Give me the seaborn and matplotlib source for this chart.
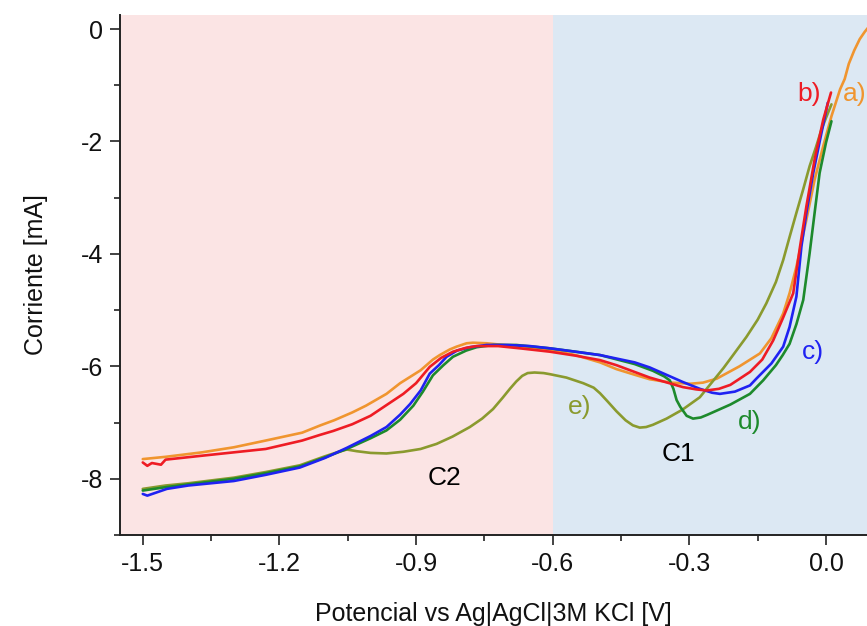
import matplotlib
matplotlib.use("Agg")
import matplotlib.pyplot as plt
from matplotlib.ticker import MultipleLocator, FuncFormatter
import pandas as pd
import seaborn as sns

# potential [V] and current [mA]
a_potential = [-1.50, -1.45, -1.37, -1.30, -1.23, -1.15, -1.11, -1.08, -1.04, -1.01,
               -0.965, -0.935, -0.89, -0.863, -0.848, -0.826, -0.811, -0.789, -0.775, -0.745,
               -0.708, -0.66, -0.606, -0.55, -0.496, -0.46, -0.42, -0.387, -0.34, -0.298,
               -0.27, -0.24, -0.19, -0.145, -0.12, -0.094, -0.08, -0.065, -0.043, -0.025,
               -0.006, 0.012, 0.031, 0.041, 0.050, 0.062, 0.074, 0.085, 0.092]
a_current = [-7.65, -7.61, -7.53, -7.44, -7.32, -7.18, -7.05, -6.96, -6.82, -6.70,
             -6.49, -6.30, -6.07, -5.88, -5.80, -5.70, -5.65, -5.59, -5.58, -5.59,
             -5.62, -5.66, -5.71, -5.80, -5.93, -6.05, -6.15, -6.23, -6.29, -6.31,
             -6.29, -6.22, -6.00, -5.77, -5.50, -5.06, -4.70, -4.23, -3.39, -2.68,
             -2.08, -1.55, -1.07, -0.89, -0.62, -0.38, -0.18, -0.05, 0.02]

b_potential = [-1.50, -1.49, -1.48, -1.46, -1.45, -1.37, -1.30, -1.23, -1.15, -1.111,
               -1.082, -1.04, -1.00, -0.965, -0.928, -0.90, -0.870, -0.845, -0.819, -0.79,
               -0.767, -0.72, -0.672, -0.606, -0.55, -0.496, -0.46, -0.387, -0.314, -0.285,
               -0.262, -0.235, -0.21, -0.167, -0.14, -0.116, -0.095, -0.072, -0.057, -0.043,
               -0.025, -0.006, 0.011]
b_current = [-7.71, -7.77, -7.72, -7.75, -7.66, -7.59, -7.53, -7.47, -7.32, -7.22,
             -7.15, -7.03, -6.88, -6.69, -6.49, -6.30, -6.01, -5.85, -5.74, -5.67,
             -5.64, -5.64, -5.68, -5.74, -5.81, -5.89, -5.98, -6.20, -6.37, -6.41,
             -6.43, -6.40, -6.33, -6.10, -5.88, -5.54, -5.15, -4.70, -3.87, -3.15,
             -2.32, -1.61, -1.13]

c_potential = [-1.50, -1.49, -1.447, -1.40, -1.30, -1.23, -1.155, -1.10, -1.052, -1.00,
               -0.965, -0.935, -0.913, -0.890, -0.870, -0.850, -0.833, -0.81, -0.782, -0.745,
               -0.70, -0.65, -0.606, -0.55, -0.496, -0.42, -0.387, -0.314, -0.277, -0.25,
               -0.233, -0.20, -0.167, -0.153, -0.12, -0.094, -0.08, -0.065, -0.054, -0.043,
               -0.028, -0.010, 0.004]
c_current = [-8.27, -8.30, -8.18, -8.12, -8.04, -7.93, -7.80, -7.63, -7.45, -7.24,
             -7.08, -6.86, -6.67, -6.43, -6.13, -5.98, -5.83, -5.72, -5.66, -5.62,
             -5.62, -5.64, -5.68, -5.74, -5.80, -5.93, -6.02, -6.28, -6.40, -6.47,
             -6.49, -6.45, -6.34, -6.22, -5.95, -5.65, -5.30, -4.76, -3.87, -3.27,
             -2.56, -1.85, -1.31]

d_potential = [-1.50, -1.45, -1.40, -1.30, -1.23, -1.155, -1.10, -1.052, -1.00, -0.965,
               -0.935, -0.906, -0.885, -0.863, -0.840, -0.819, -0.79, -0.767, -0.73, -0.68,
               -0.606, -0.55, -0.496, -0.42, -0.38, -0.355, -0.343, -0.335, -0.328, -0.32,
               -0.306, -0.292, -0.275, -0.26, -0.21, -0.167, -0.138, -0.11, -0.095, -0.080,
               -0.065, -0.050, -0.036, -0.025, -0.014, 0.0, 0.012]
d_current = [-8.21, -8.15, -8.10, -8.00, -7.90, -7.78, -7.62, -7.47, -7.28, -7.14,
             -6.95, -6.70, -6.45, -6.16, -5.98, -5.83, -5.72, -5.66, -5.62, -5.62,
             -5.68, -5.74, -5.80, -5.96, -6.08, -6.18, -6.25, -6.40, -6.60, -6.72,
             -6.88, -6.93, -6.91, -6.86, -6.68, -6.49, -6.25, -5.98, -5.80, -5.60,
             -5.25, -4.82, -3.99, -3.27, -2.56, -2.02, -1.64]

e_potential = [-1.50, -1.45, -1.40, -1.30, -1.23, -1.155, -1.10, -1.07, -1.052, -1.03,
               -1.00, -0.965, -0.928, -0.89, -0.855, -0.82, -0.782, -0.755, -0.731, -0.71,
               -0.694, -0.68, -0.667, -0.655, -0.64, -0.62, -0.606, -0.57, -0.533, -0.51,
               -0.496, -0.48, -0.46, -0.44, -0.424, -0.409, -0.395, -0.38, -0.35, -0.315,
               -0.277, -0.248, -0.225, -0.204, -0.175, -0.15, -0.131, -0.11, -0.094, -0.08,
               -0.065, -0.05, -0.036, -0.022, -0.010, 0.0, 0.012]
e_current = [-8.18, -8.12, -8.08, -7.98, -7.88, -7.76, -7.60, -7.52, -7.48, -7.51,
             -7.54, -7.55, -7.52, -7.47, -7.38, -7.25, -7.08, -6.93, -6.76, -6.56,
             -6.40, -6.27, -6.17, -6.12, -6.11, -6.12, -6.14, -6.20, -6.30, -6.38,
             -6.48, -6.62, -6.80, -6.96, -7.05, -7.09, -7.08, -7.04, -6.93, -6.77,
             -6.55, -6.26, -6.03, -5.80, -5.48, -5.17, -4.88, -4.50, -4.11, -3.70,
             -3.27, -2.85, -2.44, -2.10, -1.79, -1.58, -1.34]

curves = {
    "a": (a_potential, a_current),
    "e": (e_potential, e_current),
    "d": (d_potential, d_current),
    "c": (c_potential, c_current),
    "b": (b_potential, b_current),
}
colors = {"a": "#f0952f", "b": "#ee1c24", "c": "#1f22f2", "d": "#1d8a2c", "e": "#8a9a2e"}

# label text, left x, centre y, colour
labels = [
    ("a)", 0.037, -1.16, colors["a"]),
    ("b)", -0.064, -1.16, colors["b"]),
    ("c)", -0.054, -5.74, colors["c"]),
    ("d)", -0.193, -6.99, colors["d"]),
    ("e)", -0.566, -6.73, colors["e"]),
    ("C1", -0.361, -7.56, "black"),
    ("C2", -0.874, -7.98, "black"),
]

rows = []
for name, (pot, cur) in curves.items():
    for v, i in zip(pot, cur):
        rows.append({"curve": name, "potential": v, "current": i})
df = pd.DataFrame(rows)

sns.set_style("ticks")
plt.rcParams["font.family"] = ["Liberation Sans", "DejaVu Sans"]
plt.rcParams["axes.unicode_minus"] = False
plt.rcParams["text.color"] = "#111111"
plt.rcParams["axes.labelcolor"] = "#111111"
plt.rcParams["xtick.color"] = "#111111"
plt.rcParams["ytick.color"] = "#111111"

fig = plt.figure(figsize=(8.67, 6.26), dpi=100)
ax = fig.add_axes([0.1384, 0.1454, 0.8616, 0.8307])

ax.axvspan(-1.55, -0.6, color="#fbe4e4", lw=0, zorder=0)
ax.axvspan(-0.6, 0.09, color="#dce8f3", lw=0, zorder=0)

sns.lineplot(data=df, x="potential", y="current", hue="curve", palette=colors,
             sort=False, estimator=None, legend=False, lw=1.9, ax=ax)

for text, x, y, col in labels:
    ax.text(x, y, text, color=col, fontsize=19, ha="left", va="center", clip_on=True)

ax.set_xlim(-1.55, 0.09)
ax.set_ylim(-9, 0.25)
ax.xaxis.set_major_locator(MultipleLocator(0.3))
ax.xaxis.set_minor_locator(MultipleLocator(0.15))
ax.xaxis.set_major_formatter(FuncFormatter(lambda v, pos: f"{v + 0.0:.1f}".replace("-0.0", "0.0")))
ax.yaxis.set_major_locator(MultipleLocator(2))
ax.yaxis.set_minor_locator(MultipleLocator(1))
ax.tick_params(which="major", length=7, width=1.2, labelsize=18, pad=5, color="#222222")
ax.tick_params(which="minor", length=4.3, width=1.2, color="#222222")
for side in ["top", "right"]:
    ax.spines[side].set_visible(False)
for side in ["left", "bottom"]:
    ax.spines[side].set_linewidth(1.4)
    ax.spines[side].set_color("#222222")

ax.set_xlabel("Potencial vs Ag|AgCl|3M KCl [V]", fontsize=18, labelpad=19)
ax.set_ylabel("Corriente [mA]", fontsize=18, labelpad=24)

fig.savefig("out.png", dpi=100)
